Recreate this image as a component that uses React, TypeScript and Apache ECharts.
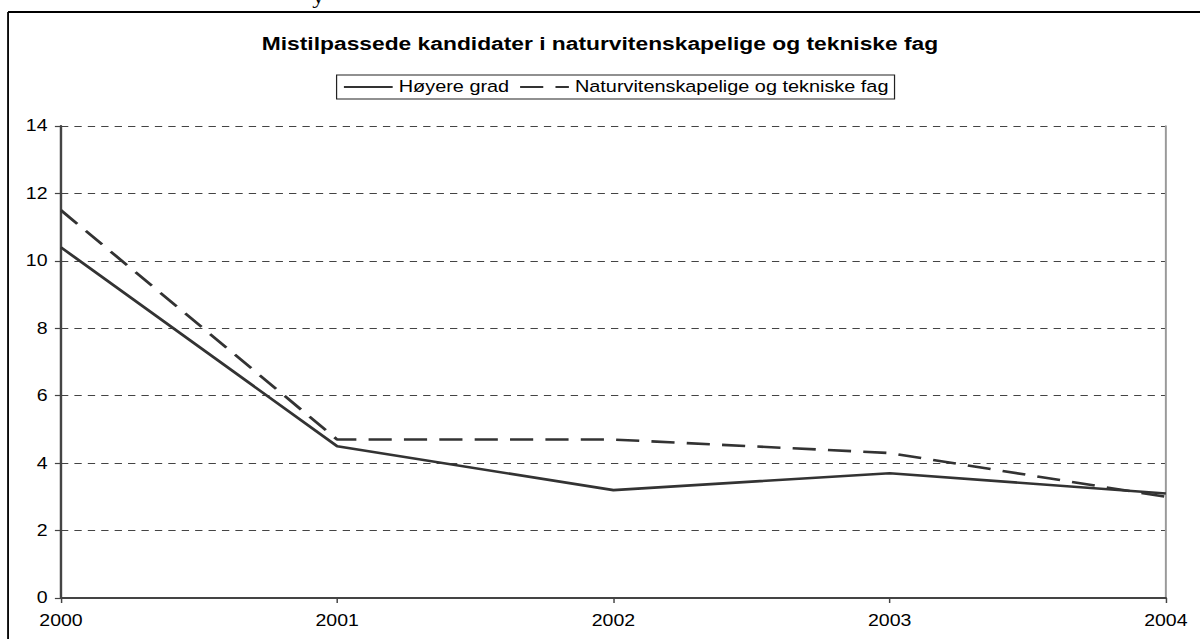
import React, { useEffect, useRef } from "react";
import * as echarts from "echarts";

const years = ["2000", "2001", "2002", "2003", "2004"];
const hoyereGrad = [10.4, 4.5, 3.2, 3.7, 3.1];
const naturTek = [11.5, 4.7, 4.7, 4.3, 3.0];
const seriesNames = ["Høyere grad", "Naturvitenskapelige og tekniske fag"];
const titleText = "Mistilpassede kandidater i naturvitenskapelige og tekniske fag";
const yTicks = { min: 0, max: 14, interval: 2 };

// The reference is an Excel chart stretched horizontally; reproduce that stretch.
const CHART_W = 984;
const CHART_H = 639;
const STRETCH = 1200 / CHART_W;

export default function App() {
  const ref = useRef<HTMLDivElement>(null);
  useEffect(() => {
    if (!ref.current) return;
    const chart = echarts.init(ref.current, undefined, { renderer: "svg" });
    const font = "Arial, 'Liberation Sans', sans-serif";
    chart.setOption({
      animation: false,
      backgroundColor: "#fff",
      textStyle: { fontFamily: font },
      title: {
        text: titleText,
        left: "center",
        top: 29,
        textStyle: { fontSize: 18.7, fontWeight: "bold", color: "#000", fontFamily: font },
      },
      legend: {
        top: 75,
        left: 276,
        data: seriesNames,
        itemWidth: 40,
        itemHeight: 10,
        itemGap: 8,
        padding: [4, 5, 4, 5],
        borderColor: "#222",
        borderWidth: 1,
        itemStyle: { opacity: 0 },
        textStyle: { fontSize: 16.3, color: "#000", fontFamily: font },
      },
      grid: { left: 50, right: 28, top: 126, bottom: 41, containLabel: false },
      xAxis: {
        type: "category",
        data: years,
        boundaryGap: false,
        axisLine: { lineStyle: { color: "#444", width: 1.8 } },
        axisTick: { length: 5, lineStyle: { color: "#444", width: 1.2 } },
        axisLabel: { fontSize: 16, color: "#000", margin: 15, fontFamily: font },
        splitLine: { show: false },
      },
      yAxis: [
        {
          type: "value",
          ...yTicks,
          axisLine: { show: true, lineStyle: { color: "#444", width: 2 } },
          axisTick: { show: true, length: 5, lineStyle: { color: "#444", width: 1.2 } },
          axisLabel: { fontSize: 16, color: "#000", margin: 11, fontFamily: font },
          splitLine: { show: true, lineStyle: { color: "#444", type: [6, 5], width: 1.2 } },
        },
        {
          type: "value",
          ...yTicks,
          position: "right",
          axisLine: { show: true, lineStyle: { color: "#999", width: 1.6 } },
          axisTick: { show: false },
          axisLabel: { show: false },
          splitLine: { show: false },
        },
      ],
      series: [
        {
          name: seriesNames[0],
          type: "line",
          data: hoyereGrad,
          symbol: "none",
          lineStyle: { color: "#333", width: 2.6 },
          itemStyle: { color: "#333" },
        },
        {
          name: seriesNames[1],
          type: "line",
          data: naturTek,
          symbol: "none",
          lineStyle: { color: "#333", width: 2.6, type: [19, 10] },
          itemStyle: { color: "#333" },
        },
      ],
      graphic: [
        {
          type: "line",
          shape: { x1: 6.6, y1: 12, x2: CHART_W, y2: 12 },
          style: { stroke: "#000", lineWidth: 2 },
          silent: true,
        },
        {
          type: "line",
          shape: { x1: 6.6, y1: 12, x2: 6.6, y2: CHART_H },
          style: { stroke: "#000", lineWidth: 1.5 },
          silent: true,
        },
        {
          type: "text",
          x: 256,
          y: -14,
          style: { text: "y", font: "20px 'Liberation Serif', serif", fill: "#000" },
          silent: true,
        },
      ],
    });
    return () => chart.dispose();
  }, []);
  return (
    <div
      ref={ref}
      style={{
        position: "absolute",
        left: 0,
        top: 0,
        width: CHART_W,
        height: CHART_H,
        transform: `scaleX(${STRETCH})`,
        transformOrigin: "0 0",
      }}
    />
  );
}
